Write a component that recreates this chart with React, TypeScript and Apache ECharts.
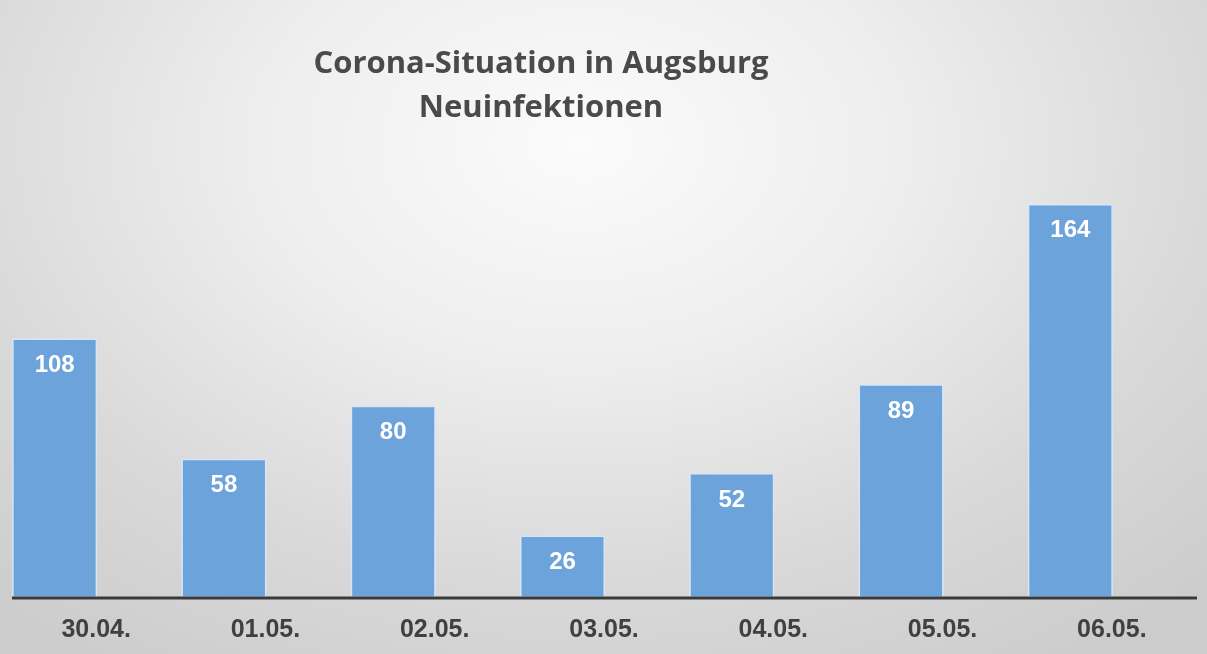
import React, { useEffect, useRef } from "react";
import * as echarts from "echarts";

const categories = ["30.04.", "01.05.", "02.05.", "03.05.", "04.05.", "05.05.", "06.05."];
const values = [108, 58, 80, 26, 52, 89, 164];
const titleLines = ["Corona-Situation in Augsburg", "Neuinfektionen"];

export default function App() {
  const ref = useRef<HTMLDivElement>(null);
  useEffect(() => {
    if (!ref.current) return;
    const chart = echarts.init(ref.current, null, { renderer: "svg" });
    chart.setOption({
      animation: false,
      backgroundColor: "transparent",
      title: {
        text: titleLines.join("\n"),
        left: 536,
        top: 34,
        textAlign: "center",
        textStyle: {
          fontFamily: "Open Sans",
          fontWeight: "bold",
          fontSize: 31,
          lineHeight: 44,
          color: "#4a4a4a",
        },
      },
      grid: { left: -30, width: 1185, top: 117.5, height: 480.5, outerBoundsMode: "none", containLabel: false },
      xAxis: {
        type: "category",
        data: categories,
        axisLine: { show: false },
        axisTick: { show: false },
        axisLabel: {
          margin: 17,
          padding: [0, 0, 0, 83],
          fontFamily: "Liberation Sans",
          fontWeight: "bold",
          fontSize: 25,
          color: "#404040",
        },
      },
      yAxis: { type: "value", min: 0, max: 200, show: false, splitLine: { show: false } },
      series: [
        {
          type: "bar",
          data: values,
          barWidth: 85,
          itemStyle: { color: "#6ca3da", borderColor: "#d6e6f6", borderWidth: 1.5 },
          label: {
            show: true,
            position: "insideTop",
            distance: 13,
            fontFamily: "Liberation Sans",
            fontWeight: "bold",
            fontSize: 24,
            color: "#ffffff",
          },
        },
      ],
      graphic: [
        {
          type: "line",
          shape: { x1: 12, y1: 598, x2: 1197, y2: 598 },
          style: { stroke: "#3a3a3a", lineWidth: 3 },
          z: 10,
        },
      ],
    });
    return () => chart.dispose();
  }, []);
  return (
    <div
      ref={ref}
      style={{
        position: "fixed",
        left: 0,
        top: 0,
        width: 1207,
        height: 654,
        background:
          "radial-gradient(ellipse 75% 95% at 48% 22%, #fbfbfb 0%, #eeeeee 35%, #d9d9d9 70%, #cccccc 100%)",
      }}
    />
  );
}
